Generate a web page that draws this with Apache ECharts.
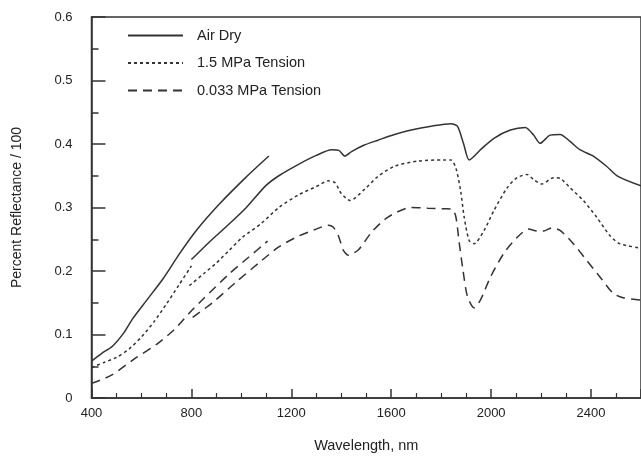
<!DOCTYPE html>
<html>
<head>
<meta charset="utf-8">
<script src="https://cdn.jsdelivr.net/npm/echarts@6/dist/echarts.min.js"></script>
<style>
  html, body { margin: 0; padding: 0; background: #fff; }
  #chart { width: 641px; height: 458px; }
</style>
</head>
<body>
<div id="chart"></div>
<script>
// legend names
var names = ['Air Dry', '1.5 MPa Tension', '0.033 MPa Tension'];

// visible range scans (400 - ~1100 nm)
var dryVisWl = [400, 440, 485, 530, 565, 619, 685, 752, 818, 911, 1017, 1110];
var dryVisR = [0.058, 0.070, 0.082, 0.103, 0.125, 0.153, 0.187, 0.227, 0.263, 0.305, 0.347, 0.381];
var dotVisWl = [400, 450, 500, 550, 600, 650, 700, 750, 800];
var dotVisR = [0.048, 0.056, 0.064, 0.077, 0.096, 0.120, 0.148, 0.178, 0.208];
var dashVisWl = [400, 480, 573, 666, 732, 792, 850, 950, 1030, 1105];
var dashVisR = [0.023, 0.036, 0.062, 0.086, 0.108, 0.134, 0.157, 0.195, 0.222, 0.247];

// near infrared scans (800 - 2600 nm)
var dryNirWl = [800, 870, 951, 1020, 1097, 1150, 1229, 1300, 1361, 1390, 1415, 1441, 1490, 1547, 1613, 1680, 1760, 1839, 1865, 1890, 1912, 1960, 2011, 2077, 2137, 2170, 2196, 2236, 2276, 2316, 2355, 2409, 2462, 2508, 2600];
var dryNirR = [0.218, 0.245, 0.274, 0.300, 0.334, 0.350, 0.368, 0.382, 0.391, 0.390, 0.381, 0.388, 0.398, 0.406, 0.415, 0.422, 0.428, 0.432, 0.428, 0.400, 0.375, 0.392, 0.409, 0.422, 0.426, 0.414, 0.401, 0.414, 0.415, 0.404, 0.391, 0.381, 0.365, 0.349, 0.334];
var dotNirWl = [792, 850, 898, 950, 1004, 1080, 1150, 1229, 1300, 1349, 1375, 1400, 1435, 1494, 1547, 1613, 1706, 1812, 1839, 1859, 1878, 1892, 1912, 1932, 1972, 2011, 2064, 2104, 2144, 2170, 2203, 2250, 2276, 2316, 2369, 2422, 2475, 2515, 2600];
var dotNirR = [0.177, 0.196, 0.212, 0.232, 0.253, 0.275, 0.300, 0.320, 0.333, 0.342, 0.339, 0.322, 0.311, 0.329, 0.349, 0.365, 0.373, 0.375, 0.375, 0.362, 0.326, 0.285, 0.248, 0.243, 0.264, 0.295, 0.331, 0.347, 0.352, 0.344, 0.337, 0.347, 0.346, 0.331, 0.311, 0.285, 0.256, 0.243, 0.236];
var dashNirWl = [805, 884, 980, 1080, 1150, 1229, 1300, 1348, 1368, 1388, 1408, 1428, 1468, 1521, 1587, 1680, 1746, 1812, 1845, 1859, 1872, 1886, 1905, 1932, 1958, 1998, 2051, 2104, 2150, 2183, 2210, 2243, 2276, 2329, 2382, 2435, 2488, 2528, 2600];
var dashNirR = [0.127, 0.150, 0.183, 0.216, 0.238, 0.255, 0.266, 0.272, 0.269, 0.256, 0.233, 0.225, 0.233, 0.261, 0.285, 0.300, 0.299, 0.298, 0.297, 0.285, 0.245, 0.205, 0.160, 0.142, 0.155, 0.191, 0.228, 0.253, 0.266, 0.263, 0.263, 0.268, 0.264, 0.243, 0.217, 0.191, 0.165, 0.158, 0.154];

var ink = '#333';
var font = 'Liberation Sans, Arial, sans-serif';

function pairs(xs, ys) {
  var out = [];
  for (var i = 0; i < xs.length; i++) out.push([xs[i], ys[i]]);
  return out;
}

function line(name, xs, ys, dash) {
  return {
    name: name,
    type: 'line',
    data: pairs(xs, ys),
    symbol: 'none',
    smooth: 0.25,
    color: ink,
    lineStyle: { color: ink, width: 1.5, type: dash }
  };
}

var chart = echarts.init(document.getElementById('chart'));
chart.setOption({
  animation: false,
  backgroundColor: '#fff',
  textStyle: { fontFamily: font, color: '#222' },
  legend: {
    orient: 'vertical',
    left: 122,
    top: 23,
    itemWidth: 55,
    itemHeight: 14,
    itemGap: 12.5,
    data: names,
    itemStyle: { opacity: 0 },  // hide the circle marker, keep the line
    textStyle: { fontSize: 14.5, color: '#222', padding: [0, 0, 0, 9] }
  },
  grid: {
    left: 91.5,
    right: -4,
    top: 17,
    bottom: 55,
    show: true,
    borderColor: ink,
    borderWidth: 1.5
  },
  xAxis: {
    type: 'value',
    min: 400,
    max: 2600,
    interval: 400,
    name: 'Wavelength, nm',
    nameLocation: 'middle',
    nameGap: 40,
    nameTextStyle: { fontSize: 14.5, color: '#222' },
    splitLine: { show: false },
    axisLine: { lineStyle: { color: ink, width: 1.5 } },
    axisTick: { inside: true, length: 9, lineStyle: { color: ink, width: 1.5 } },
    minorTick: { show: true, splitNumber: 4, length: 5, lineStyle: { color: ink, width: 1.2 } },
    axisLabel: {
      fontSize: 13, color: '#222', margin: 9, showMaxLabel: false,
      formatter: function (v) { return String(v); }
    }
  },
  yAxis: {
    type: 'value',
    min: 0,
    max: 0.6,
    interval: 0.1,
    name: 'Percent Reflectance / 100',
    nameLocation: 'middle',
    nameGap: 67,
    nameTextStyle: { fontSize: 14, color: '#222' },
    splitLine: { show: false },
    axisLine: { show: true, lineStyle: { color: ink, width: 1.5 } },
    axisTick: { show: true, inside: true, length: 14, lineStyle: { color: ink, width: 1.5 } },
    minorTick: { show: true, splitNumber: 2, length: 7, lineStyle: { color: ink, width: 1.5 } },
    axisLabel: { fontSize: 13, color: '#222', margin: 19 }
  },
  series: [
    line(names[0], dryVisWl, dryVisR, 'solid'),
    line(names[0], dryNirWl, dryNirR, 'solid'),
    line(names[1], dotVisWl, dotVisR, [3, 3]),
    line(names[1], dotNirWl, dotNirR, [3, 3]),
    line(names[2], dashVisWl, dashVisR, [9, 6]),
    line(names[2], dashNirWl, dashNirR, [9, 6])
  ]
});
</script>
</body>
</html>
